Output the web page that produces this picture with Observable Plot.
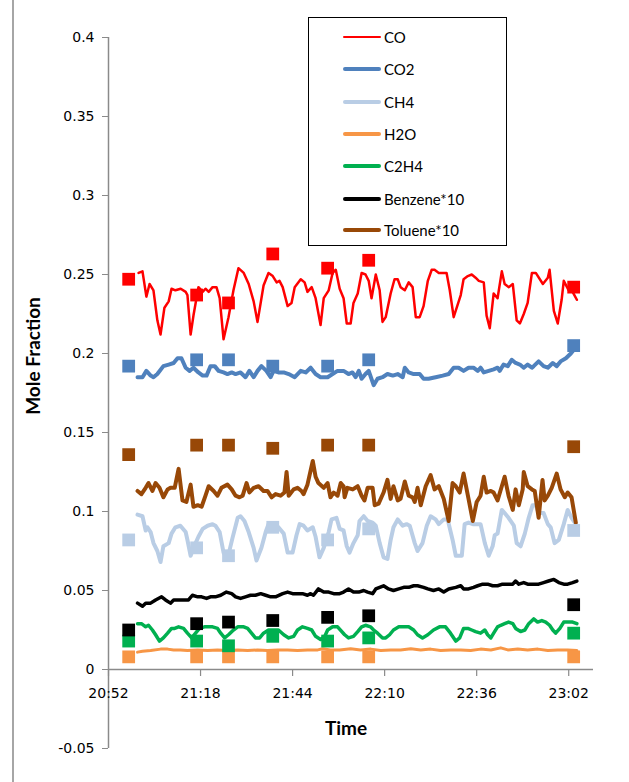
<!DOCTYPE html>
<html><head><meta charset="utf-8">
<script src="https://cdn.jsdelivr.net/npm/d3@7"></script>
<script src="https://cdn.jsdelivr.net/npm/@observablehq/plot@0.6"></script>
<style>
body{margin:0;background:#fff;}
#wrap{position:relative;width:629px;height:782px;overflow:hidden;background:#fff;}
#frame{position:absolute;left:12px;top:0;width:0;height:782px;border-left:2px solid #a6a6a6;}
#chart{position:absolute;left:0;top:0;}
#legend{position:absolute;left:308px;top:17px;width:197px;height:227px;border:1px solid #000;background:#fff;font-family:Lato,"Open Sans",sans-serif;font-size:15px;color:#000;}
.row{position:absolute;left:34px;height:20px;display:flex;align-items:center;white-space:nowrap;}
.sw{width:38px;border-radius:2px;margin-right:3px;}
</style></head>
<body>
<div id="wrap"><div id="frame"></div><div id="chart"></div><div id="legend"></div></div>
<script>
// minutes after 20:52, value
const CO = [[8.5,.251],[9.6,.252],[10.7,.236],[11.6,.244],[12.7,.240],[13.8,.221],[14.7,.212],[15.8,.229],[17.0,.233],[17.8,.241],[18.9,.240],[20.4,.241],[21.8,.239],[22.3,.237],[23.2,.212],[24.0,.224],[25.4,.242],[26.6,.239],[27.4,.241],[28.3,.239],[29.4,.242],[30.5,.242],[31.4,.235],[32.5,.209],[33.9,.223],[35.3,.240],[36.7,.254],[38.2,.251],[39.6,.244],[41.0,.233],[42.1,.220],[43.8,.243],[45.2,.251],[46.4,.249],[47.5,.245],[48.3,.246],[49.2,.242],[50.6,.230],[51.7,.232],[52.6,.242],[54.3,.247],[55.4,.245],[56.2,.239],[57.4,.242],[58.5,.235],[59.9,.218],[60.8,.235],[62.2,.240],[63.3,.251],[64.2,.253],[65.3,.241],[66.4,.235],[67.3,.219],[68.4,.219],[69.2,.232],[70.4,.238],[71.5,.251],[72.6,.250],[73.5,.246],[74.3,.235],[75.5,.250],[76.6,.240],[77.4,.220],[78.3,.223],[79.7,.238],[80.8,.247],[81.7,.247],[82.5,.242],[83.7,.240],[84.8,.245],[85.9,.242],[86.8,.223],[87.9,.223],[89.0,.230],[90.2,.246],[91.3,.253],[92.1,.253],[93.3,.251],[94.4,.251],[95.5,.251],[96.4,.240],[97.5,.223],[99.5,.237],[100.3,.247],[101.5,.249],[102.6,.250],[103.7,.248],[104.6,.246],[106.0,.245],[106.8,.224],[107.7,.216],[108.8,.238],[109.9,.235],[111.1,.252],[111.9,.244],[113.1,.242],[114.2,.244],[115.3,.221],[116.2,.219],[117.3,.225],[118.4,.232],[119.6,.251],[120.7,.251],[122.7,.244],[124.1,.248],[124.6,.253],[125.8,.227],[126.9,.219],[128.0,.234],[128.6,.246],[130.0,.240],[131.1,.239],[132.3,.234]];
const CO2 = [[8.2,.185],[9.6,.185],[10.7,.189],[11.9,.186],[12.7,.185],[13.8,.187],[15.5,.192],[17.0,.193],[18.4,.194],[19.5,.197],[20.6,.197],[21.8,.191],[22.9,.189],[24.0,.191],[25.4,.188],[26.6,.186],[27.7,.186],[28.8,.192],[30.0,.192],[31.1,.189],[32.5,.188],[33.6,.187],[34.8,.188],[35.9,.187],[37.3,.188],[38.7,.185],[39.8,.189],[41.0,.185],[42.1,.189],[43.2,.192],[44.6,.189],[45.8,.185],[46.6,.189],[48.0,.188],[49.5,.188],[50.9,.187],[52.6,.185],[54.3,.189],[55.7,.188],[57.1,.191],[58.5,.187],[59.9,.185],[61.9,.185],[63.3,.187],[64.7,.189],[66.4,.189],[67.8,.187],[68.9,.188],[69.8,.185],[70.7,.189],[71.5,.184],[72.6,.187],[73.5,.189],[74.9,.180],[76.0,.184],[77.4,.185],[78.8,.187],[80.3,.186],[81.7,.187],[83.1,.185],[83.7,.191],[84.8,.188],[86.2,.187],[87.9,.187],[89.0,.184],[90.4,.184],[92.4,.185],[94.4,.186],[96.1,.187],[97.5,.191],[98.9,.191],[100.3,.189],[101.7,.191],[103.1,.191],[104.3,.189],[105.1,.191],[106.0,.188],[107.4,.189],[108.8,.190],[109.9,.191],[110.5,.189],[111.6,.193],[112.8,.192],[113.9,.196],[115.0,.194],[116.2,.193],[117.3,.191],[118.4,.193],[119.6,.191],[120.1,.192],[121.5,.195],[122.9,.192],[124.1,.191],[125.5,.194],[126.6,.192],[127.7,.195],[129.2,.197],[130.6,.200],[132.0,.204]];
const CH4 = [[8.2,.098],[9.6,.097],[10.5,.088],[11.0,.090],[11.9,.087],[12.7,.080],[13.8,.075],[14.7,.068],[15.5,.078],[17.0,.080],[17.8,.086],[18.9,.090],[20.3,.091],[21.8,.087],[22.3,.082],[23.2,.072],[24.0,.077],[25.4,.084],[26.6,.089],[28.0,.091],[29.4,.092],[30.2,.091],[31.4,.087],[32.5,.074],[33.6,.070],[35.0,.083],[36.5,.096],[37.3,.097],[38.4,.094],[39.6,.087],[41.0,.077],[41.8,.069],[43.2,.077],[44.4,.087],[45.2,.092],[46.6,.092],[48.0,.090],[49.5,.086],[50.6,.074],[52.0,.074],[53.1,.085],[54.0,.092],[55.1,.091],[56.2,.088],[57.7,.090],[58.5,.084],[59.6,.071],[60.8,.077],[62.2,.087],[63.0,.095],[64.4,.096],[65.3,.089],[66.4,.088],[67.3,.078],[68.1,.074],[69.2,.080],[70.4,.085],[70.9,.094],[72.1,.097],[73.2,.094],[74.6,.093],[75.5,.091],[76.6,.080],[77.7,.071],[78.8,.070],[79.7,.082],[80.5,.090],[81.7,.095],[83.1,.091],[84.2,.092],[85.1,.091],[86.5,.080],[87.3,.075],[88.7,.080],[89.9,.091],[91.0,.097],[92.4,.095],[93.3,.092],[94.7,.095],[95.8,.095],[97.2,.082],[98.1,.072],[99.8,.072],[100.6,.092],[101.7,.093],[102.9,.092],[104.3,.092],[105.1,.092],[106.3,.080],[107.4,.072],[108.5,.078],[109.1,.085],[109.9,.086],[111.1,.101],[111.9,.099],[113.0,.096],[114.5,.091],[115.3,.080],[116.4,.078],[117.6,.086],[118.7,.096],[119.8,.104],[120.7,.104],[121.5,.099],[122.9,.099],[124.1,.092],[124.9,.090],[126.0,.080],[127.2,.082],[128.6,.092],[129.7,.101],[130.8,.096],[132.0,.092]];
const H2O = [[8.2,.0110],[9.6,.0116],[11.9,.0120],[14.7,.0129],[16.7,.0129],[18.4,.0124],[20.3,.0124],[22.3,.0120],[25.2,.0124],[28.0,.0120],[30.8,.0124],[33.6,.0120],[36.5,.0124],[39.3,.0120],[42.1,.0124],[44.9,.0120],[47.8,.0124],[50.6,.0124],[53.4,.0120],[56.2,.0124],[59.1,.0124],[60.5,.0131],[62.7,.0124],[65.3,.0124],[68.4,.0131],[71.2,.0124],[74.1,.0129],[76.9,.0120],[79.7,.0124],[82.5,.0124],[85.4,.0131],[88.2,.0124],[91.0,.0129],[93.8,.0120],[96.7,.0124],[99.5,.0124],[102.3,.0120],[105.1,.0129],[108.0,.0124],[110.8,.0137],[112.8,.0124],[115.6,.0129],[118.4,.0124],[121.3,.0129],[124.1,.0120],[126.9,.0124],[129.7,.0124],[132.3,.0120]];
const C2H4 = [[8.2,.029],[9.3,.029],[10.5,.027],[11.3,.028],[12.4,.025],[13.3,.022],[14.4,.018],[15.5,.020],[16.7,.023],[17.8,.026],[18.7,.026],[19.8,.027],[21.2,.026],[22.3,.023],[23.5,.020],[24.6,.023],[25.7,.026],[27.1,.027],[28.3,.027],[29.4,.027],[30.8,.026],[31.7,.023],[32.8,.020],[33.9,.022],[35.3,.025],[36.5,.027],[38.2,.027],[39.3,.026],[40.4,.023],[41.5,.020],[42.7,.020],[43.8,.023],[45.2,.025],[46.6,.025],[48.0,.025],[49.5,.022],[50.9,.020],[52.3,.021],[53.4,.025],[54.8,.027],[56.2,.026],[57.4,.025],[58.5,.021],[59.9,.019],[61.1,.021],[61.9,.025],[63.3,.027],[64.7,.027],[66.7,.022],[67.8,.020],[69.2,.021],[70.4,.024],[71.5,.027],[72.6,.028],[74.0,.027],[74.9,.025],[76.0,.023],[77.4,.020],[78.3,.020],[79.4,.022],[80.5,.025],[82.0,.027],[83.4,.027],[84.8,.027],[86.2,.025],[87.3,.022],[88.7,.020],[90.2,.022],[91.8,.025],[93.5,.027],[95.2,.027],[96.6,.023],[98.1,.018],[99.2,.020],[100.3,.026],[101.5,.026],[102.6,.025],[103.7,.024],[105.1,.023],[106.3,.025],[107.1,.022],[108.0,.020],[108.8,.023],[109.9,.027],[110.8,.028],[111.9,.029],[113.0,.030],[114.2,.029],[115.0,.026],[116.4,.024],[117.6,.025],[118.7,.029],[120.1,.032],[121.2,.030],[122.4,.031],[123.5,.030],[124.6,.028],[125.5,.025],[126.3,.023],[127.5,.026],[128.6,.030],[129.7,.030],[131.1,.030],[132.3,.029]];
const BENZENE10 = [[8.2,.042],[9.6,.040],[10.5,.042],[11.9,.042],[13.3,.044],[15.0,.046],[16.1,.044],[17.5,.042],[18.4,.044],[19.8,.044],[21.2,.044],[22.6,.044],[23.7,.047],[25.2,.046],[26.3,.046],[27.7,.045],[28.8,.046],[30.2,.046],[31.7,.047],[33.3,.049],[34.8,.048],[35.9,.046],[37.3,.045],[38.7,.046],[40.1,.047],[41.5,.047],[43.0,.048],[44.4,.047],[45.8,.046],[47.2,.046],[49.2,.048],[50.6,.049],[52.0,.048],[53.4,.048],[54.8,.048],[56.2,.047],[57.1,.048],[57.9,.047],[59.3,.051],[60.8,.049],[62.2,.049],[63.6,.048],[65.3,.048],[66.4,.049],[67.8,.051],[69.2,.049],[70.7,.049],[72.1,.050],[73.2,.049],[74.6,.048],[75.5,.051],[76.6,.052],[77.7,.053],[79.1,.051],[80.5,.050],[82.0,.051],[83.4,.052],[84.8,.052],[86.2,.053],[87.3,.053],[89.0,.052],[90.2,.051],[91.8,.050],[93.3,.051],[94.7,.049],[96.1,.051],[98.1,.052],[99.5,.053],[100.3,.051],[101.7,.051],[103.1,.052],[104.3,.053],[105.7,.054],[107.1,.054],[108.5,.053],[109.9,.053],[111.3,.054],[112.8,.054],[114.2,.054],[115.0,.056],[115.9,.054],[117.3,.055],[118.4,.054],[119.3,.054],[120.1,.054],[121.5,.054],[122.9,.055],[124.3,.056],[125.8,.057],[127.2,.055],[128.6,.054],[129.7,.054],[131.1,.055],[132.3,.056]];
const TOLUENE10 = [[8.2,.113],[9.3,.111],[10.5,.115],[11.3,.118],[12.4,.113],[13.3,.118],[14.4,.115],[15.5,.109],[16.7,.114],[17.5,.115],[18.7,.115],[19.8,.127],[20.9,.107],[22.0,.106],[23.2,.117],[24.0,.103],[25.2,.104],[26.3,.103],[27.4,.110],[28.3,.116],[29.7,.113],[30.8,.110],[31.9,.115],[33.6,.117],[34.8,.114],[35.9,.110],[37.0,.109],[37.9,.110],[39.0,.118],[39.8,.112],[41.0,.115],[42.4,.116],[43.8,.113],[44.9,.113],[46.1,.109],[47.2,.111],[48.6,.110],[49.7,.112],[50.3,.125],[50.9,.110],[52.3,.114],[53.4,.115],[54.5,.113],[55.1,.111],[56.2,.117],[57.7,.132],[58.5,.122],[59.3,.118],[60.8,.115],[61.9,.118],[62.7,.109],[63.6,.112],[64.7,.110],[65.6,.118],[66.4,.116],[66.7,.109],[67.5,.115],[69.0,.114],[70.4,.116],[71.5,.110],[72.3,.107],[73.2,.115],[74.6,.115],[75.2,.104],[76.3,.105],[77.7,.112],[78.8,.120],[79.7,.108],[80.5,.116],[81.7,.107],[82.5,.108],[83.7,.119],[84.8,.110],[85.9,.109],[86.5,.106],[87.3,.115],[88.2,.104],[89.6,.116],[91.0,.123],[92.1,.114],[93.3,.116],[94.7,.108],[96.1,.094],[97.2,.118],[98.1,.116],[99.2,.112],[100.3,.124],[101.7,.108],[102.9,.094],[104.0,.106],[105.1,.110],[106.0,.122],[106.8,.112],[108.0,.113],[108.8,.112],[109.9,.107],[111.1,.116],[111.9,.122],[113.0,.110],[114.2,.101],[115.0,.114],[115.9,.104],[117.0,.114],[117.3,.125],[118.4,.116],[119.6,.114],[120.4,.113],[121.5,.096],[122.6,.120],[123.2,.107],[124.1,.110],[125.2,.115],[126.6,.124],[127.7,.114],[128.9,.109],[129.7,.112],[130.8,.109],[132.0,.093]];

// discrete sample points (squares)
const sampleMinutes = [5.7, 24.9, 33.9, 46.4, 61.9, 73.5, 131.4];
const coSamples = [.247, .237, .232, .263, .254, .259, .242];
const co2Samples = [.192, .196, .196, .192, .192, .196, .205];
const ch4Samples = [.082, .077, .072, .090, .082, .089, .088];
const h2oSamples = [.008, .008, .008, .008, .008, .008, .008];
const c2h4Samples = [.018, .018, .015, .021, .018, .020, .023];
const benzeneSamples = [.025, .029, .030, .031, .033, .034, .041];
const tolueneSamples = [.136, .142, .142, .140, .142, .142, .141];

const seriesNames = ["CO", "CO2", "CH4", "H2O", "C2H4", "Benzene*10", "Toluene*10"];
const seriesColors = ["#FF0000", "#4F81BD", "#B9CDE5", "#F79646", "#00B050", "#000000", "#984807"];
const seriesWidths = [2.5, 4, 4, 3, 3.5, 3.5, 4];
const seriesLines = [CO, CO2, CH4, H2O, C2H4, BENZENE10, TOLUENE10];
const seriesSamples = [coSamples, co2Samples, ch4Samples, h2oSamples, c2h4Samples, benzeneSamples, tolueneSamples];

const xTickMinutes = [0, 26, 52, 78, 104, 130];
const xTickLabels = ["20:52", "21:18", "21:44", "22:10", "22:36", "23:02"];
const yTicks = [-0.05, 0, 0.05, 0.1, 0.15, 0.2, 0.25, 0.3, 0.35, 0.4];
const yTickLabels = ["-0.05", "0", "0.05", "0.1", "0.15", "0.2", "0.25", "0.3", "0.35", "0.4"];

const t0 = Date.UTC(2000, 0, 1, 20, 52);
const T = m => new Date(t0 + m * 60000);
const yLab = new Map(yTicks.map((v, i) => [v, yTickLabels[i]]));
const xLab = new Map(xTickMinutes.map((m, i) => [m, xTickLabels[i]]));
const axisColor = "#8a8a8a";

const lineMarks = seriesLines.map((data, k) =>
  Plot.line(data, {x: d => T(d[0]), y: d => d[1], stroke: seriesColors[k], strokeWidth: seriesWidths[k], strokeLinejoin: "round", strokeLinecap: "round"}));
const dotMarks = seriesSamples.map((vals, k) =>
  Plot.dot(vals.map((v, i) => ({m: sampleMinutes[i], v})), {x: d => T(d.m), y: "v", symbol: "square", r: 7.2, fill: seriesColors[k], stroke: null}));

const chart = Plot.plot({
  width: 629, height: 782,
  marginLeft: 108, marginRight: 36, marginTop: 37, marginBottom: 34,
  style: {fontFamily: "'DejaVu Sans', sans-serif", fontSize: "14px", color: "#000", background: "transparent", overflow: "visible"},
  x: {type: "utc", domain: [T(0), T(137)], axis: null},
  y: {domain: [-0.05, 0.4], axis: null},
  marks: [
    Plot.ruleY([0], {stroke: axisColor, strokeWidth: 1.5}),
    Plot.ruleX([T(0)], {stroke: axisColor, strokeWidth: 1.5}),
    Plot.ruleX(xTickMinutes, {x: m => T(m), y1: 0, y2: 0, insetBottom: -7, stroke: axisColor, strokeWidth: 1.2}),
    Plot.text(xTickMinutes, {x: m => T(m), y: 0, dy: 24, text: m => xLab.get(m), fontSize: 14, fill: "#000"}),
    Plot.axisY(yTicks, {tickSize: 6, tickPadding: 8, tickFormat: d => yLab.get(d), stroke: axisColor, fill: "#000", fontSize: 14, label: null}),
    ...lineMarks,
    ...dotMarks,
    Plot.text(["Time"], {frameAnchor: "bottom", lineAnchor: "middle", dy: -20, dx: -5, fontWeight: "bold", fontSize: 19, fontFamily: "Lato, sans-serif", fill: "#000"}),
    Plot.text(["Mole Fraction"], {frameAnchor: "left", textAnchor: "middle", lineAnchor: "middle", rotate: -90, dx: -75, dy: -37, fontWeight: "bold", fontSize: 19, fontFamily: "Lato, sans-serif", fill: "#000"})
  ]
});
document.getElementById("chart").appendChild(chart);

const rowTops = [9, 41, 74, 106, 138, 171, 202];
const legend = document.getElementById("legend");
seriesNames.forEach((name, k) => {
  const row = document.createElement("div");
  row.className = "row";
  row.style.top = rowTops[k] + "px";
  const sw = document.createElement("div");
  sw.className = "sw";
  sw.style.height = (k === 0 ? 2.5 : 4) + "px";
  sw.style.background = seriesColors[k];
  const tx = document.createElement("span");
  tx.textContent = name;
  row.appendChild(sw); row.appendChild(tx);
  legend.appendChild(row);
});
</script>
</body></html>
